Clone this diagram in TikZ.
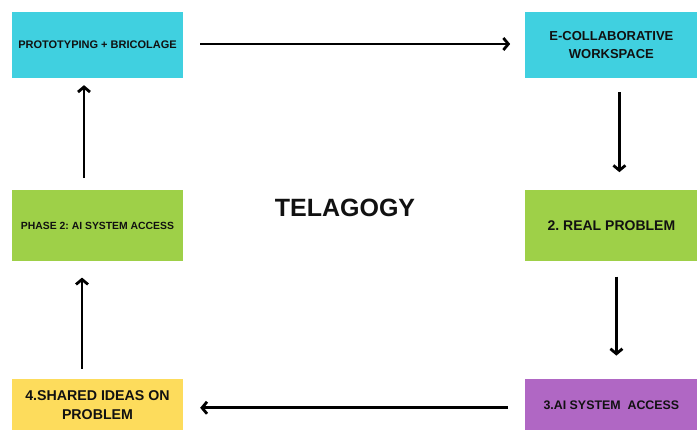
\documentclass[tikz,border=0pt]{standalone}
\usepackage{fontspec}
\setmainfont{Liberation Sans}
\usepackage{xcolor}
\definecolor{stageCyan}{HTML}{40D0E0}
\definecolor{stageGreen}{HTML}{9ED048}
\definecolor{stageYellow}{HTML}{FDDC5C}
\definecolor{stagePurple}{HTML}{B067C4}
\definecolor{stageText}{HTML}{111111}
\usetikzlibrary{arrows.meta}
\usetikzlibrary{positioning}
\tikzstyle{stage} = [rectangle, inner sep=2pt, align=center, text=stageText,
        minimum width=171pt]
\tikzstyle{flow} = [line width=2.8pt, -{Straight Barb[length=5pt,width=12pt]}]
\frenchspacing

\begin{document}
\begin{tikzpicture}[x=1pt,y=-1pt]
        \useasboundingbox (0,0) rectangle (697,430);
        \node [stage, fill=stageCyan, minimum height=66pt, font={\bfseries\fontsize{11}{14}\selectfont}] (proto) at (97.5,45) {PROTOTYPING + BRICOLAGE};
        \node [stage, fill=stageCyan, minimum width=172pt, minimum height=66pt, font={\bfseries\fontsize{13}{18}\selectfont}, right=342pt of proto] (workspace) {E-COLLABORATIVE\\WORKSPACE};
        \node [stage, fill=stageGreen, minimum height=71pt, font={\bfseries\fontsize{10.4}{13}\selectfont}, below=112pt of proto] (phase) {PHASE 2: AI SYSTEM ACCESS};
        \node [stage, fill=stageGreen, minimum width=172pt, minimum height=71pt, font={\bfseries\fontsize{14}{17}\selectfont}, below=112pt of workspace] (realprob) {2. REAL PROBLEM};
        \node [stage, fill=stageYellow, minimum height=52pt, font={\bfseries\fontsize{14.2}{19}\selectfont}, below=117pt of phase] (sharedideas) {4.SHARED IDEAS ON\\PROBLEM};
        \node [stage, fill=stagePurple, minimum width=172pt, minimum height=52pt, font={\bfseries\fontsize{12.4}{15}\selectfont}, below=117pt of realprob] (aiaccess) {3.AI SYSTEM\ \ ACCESS};
        \node [text=stageText, font={\bfseries\fontsize{25}{30}\selectfont}] (title) at (345,208) {TELAGOGY};
        \draw [flow, shorten <=17pt, shorten >=15pt]
            ([yshift=1pt]proto.east) -- ([yshift=1pt]workspace.west);
        \draw [flow, shorten <=14pt, shorten >=18pt]
            ([xshift=8pt]workspace.south) -- ([xshift=8pt]realprob.north);
        \draw [flow, shorten <=15pt, shorten >=23pt]
            ([xshift=5pt]realprob.south) -- ([xshift=5pt]aiaccess.north);
        \draw [flow, shorten <=17pt, shorten >=17pt]
            ([yshift=-3pt]aiaccess.west) -- ([yshift=-3pt]sharedideas.east);
        \draw [flow, shorten <=10pt, shorten >=16pt]
            ([xshift=-15.5pt]sharedideas.north) -- ([xshift=-15.5pt]phase.south);
        \draw [flow, shorten <=12pt, shorten >=7pt]
            ([xshift=-13.5pt]phase.north) -- ([xshift=-13.5pt]proto.south);
    \end{tikzpicture}
\end{document}
